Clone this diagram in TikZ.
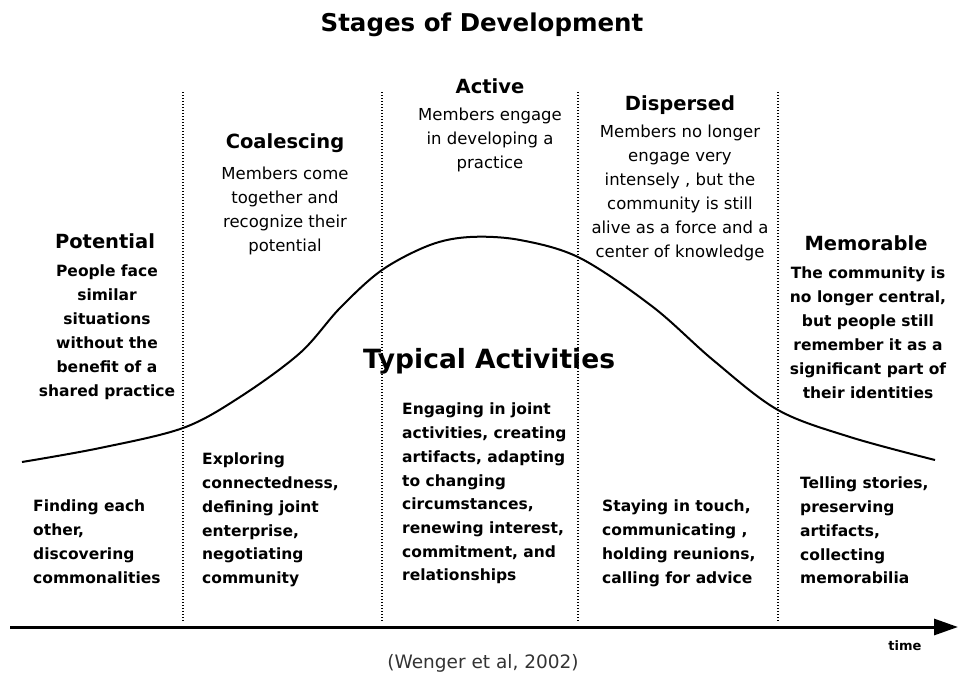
\documentclass[tikz,border=0pt]{standalone}
\usepackage{fontspec}
\setmainfont{DejaVu Sans}
\newfontfamily\citefont{DejaVu Sans}
\usetikzlibrary{arrows.meta}

\tikzset{
  stagename/.style={font=\fontsize{19.5}{20}\selectfont\bfseries, inner sep=0pt, anchor=north},
  stagetext/.style={font=\fontsize{16.5}{24}\selectfont, align=center, inner sep=0pt, anchor=north},
  boldtext/.style={font=\fontsize{15.5}{24}\selectfont\bfseries},
  activity/.style={font=\fontsize{15.5}{23.7}\selectfont\bfseries, align=left, inner sep=0pt, anchor=north west},
  divider/.style={line width=1.4pt, dash pattern=on 1.4pt off 1.6pt},
}

\begin{document}
\begin{tikzpicture}[x=1pt,y=-1pt]
    \useasboundingbox (0,0) rectangle (961,681);

    % Title
    \node[font=\fontsize{24.5}{24}\selectfont\bfseries, inner sep=0pt, anchor=north] (title) at (482,13) {Stages of Development};

    % Stage dividers
    \foreach \x in {183,382,578,778}
        \draw[divider] (\x,92) -- (\x,622);

    % Development curve
    \draw[line width=2pt, line join=round] plot[smooth, tension=0.55] coordinates {
        (22,462) (100,448) (183,428) (240,397) (300,353) (340,308) (382,270)
        (430,245) (470,237) (520,240) (580,258) (653,307) (713,360) (778,410)
        (850,437) (935,460)};

    % Stages
    \node[stagename] (potential) at (105,233) {Potential};
    \node[stagetext, boldtext] (potentialtext) at (107,265)
        {People face\\similar\\situations\\without the\\benefit of a\\shared practice};

    \node[stagename] (coalescing) at (285,133) {Coalescing};
    \node[stagetext] (coalescingtext) at (285,167)
        {Members come\\together and\\recognize their\\potential};

    \node[stagename] (active) at (490,78) {Active};
    \node[stagetext] (activetext) at (490,108)
        {Members engage\\in developing a\\practice};

    \node[stagename] (dispersed) at (680,95) {Dispersed};
    \node[stagetext] (dispersedtext) at (680,125)
        {Members no longer\\engage very\\intensely , but the\\community is still\\alive as a force and a\\center of knowledge};

    \node[stagename] (memorable) at (866,235) {Memorable};
    \node[stagetext, boldtext] (memorabletext) at (868,267)
        {The community is\\no longer central,\\but people still\\remember it as a\\significant part of\\their identities};

    % Typical activities
    \node[font=\fontsize{26.5}{26}\selectfont\bfseries, inner sep=0pt, anchor=north] (typical) at (489,348) {Typical Activities};

    \node[activity] (findact) at (33,500)
        {Finding each\\other,\\discovering\\commonalities};
    \node[activity] (exploreact) at (202,453)
        {Exploring\\connectedness,\\defining joint\\enterprise,\\negotiating\\community};
    \node[activity] (engageact) at (402,403)
        {Engaging in joint\\activities, creating\\artifacts, adapting\\to changing\\circumstances,\\renewing interest,\\commitment, and\\relationships};
    \node[activity] (stayact) at (602,500)
        {Staying in touch,\\communicating ,\\holding reunions,\\calling for advice};
    \node[activity] (tellact) at (800,477)
        {Telling stories,\\preserving\\artifacts,\\collecting\\memorabilia};

    % Time axis
    \coordinate (tstart) at (10,627);
    \coordinate (tend) at (958,627);
    \draw[line width=3pt, -{Triangle[length=24pt,width=16pt]}] (tstart) -- (tend);
    \node[font=\fontsize{13}{13}\selectfont\bfseries] (time) at (905,646) {time};

    % Reference
    \node[font=\citefont\fontsize{18.5}{18}\selectfont, text=black!80] (cite) at (483,663) {(Wenger et al, 2002)};
\end{tikzpicture}
\end{document}
